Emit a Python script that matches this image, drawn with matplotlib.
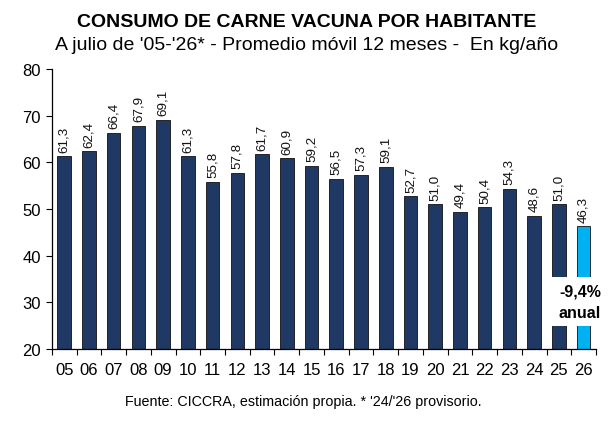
import numpy as np
import matplotlib.pyplot as plt
from matplotlib.patches import Rectangle
from matplotlib.ticker import MultipleLocator

plt.rcParams['font.family'] = ['Liberation Sans', 'DejaVu Sans']

years = ['05', '06', '07', '08', '09', '10', '11', '12', '13', '14', '15',
         '16', '17', '18', '19', '20', '21', '22', '23', '24', '25', '26']
consumo = [61.3, 62.4, 66.4, 67.9, 69.1, 61.3, 55.8, 57.8, 61.7, 60.9, 59.2,
           56.5, 57.3, 59.1, 52.7, 51.0, 49.4, 50.4, 54.3, 48.6, 51.0, 46.3]

navy = '#1f3864'
light = '#00b0f0'
colors = [navy] * (len(years) - 1) + [light]

fig = plt.figure(figsize=(6.1, 4.27), dpi=100)
ax = fig.add_axes([0.085, 0.18, 0.892, 0.656])

x = np.arange(len(years))
ax.bar(x, [v - 20 for v in consumo], bottom=20, width=0.55, color=colors,
       edgecolor='#111111', linewidth=0.6, zorder=2)

for xi, v in zip(x, consumo):
    ax.text(xi, v + 1.0, f'{v:.1f}'.replace('.', ','), rotation=90,
            ha='center', va='bottom', fontsize=9.6, color='#111111')

ax.set_ylim(20, 80)
ax.set_xlim(-0.5, len(years) - 0.5)
ax.yaxis.set_major_locator(MultipleLocator(10))
ax.tick_params(axis='y', labelsize=12, length=4, width=0.8, direction='out', pad=4)

ax.set_xticks(x)
ax.set_xticklabels(years)
ax.set_xticks(np.arange(-0.5, len(years), 1), minor=True)
ax.tick_params(axis='x', which='major', length=0, labelsize=12, pad=9)
ax.tick_params(axis='x', which='minor', length=4, width=0.8, direction='out')

for s in ['top', 'right']:
    ax.spines[s].set_visible(False)
ax.spines['left'].set_linewidth(0.9)
ax.spines['bottom'].set_linewidth(0.9)

# caja blanca con la variacion anual
ax.add_patch(Rectangle((19.65, 24.9), 2.2, 10.5, facecolor='white',
                       edgecolor='none', zorder=4, clip_on=False))
ax.text(20.85, 30.2, '-9,4%\nanual', ha='center', va='center', fontsize=11.5,
        fontweight='bold', linespacing=1.55, zorder=5, clip_on=False)

fig.text(0.502, 0.947, 'CONSUMO DE CARNE VACUNA POR HABITANTE', ha='center',
         va='center', fontsize=14, fontweight='bold')
fig.text(0.502, 0.893, "A julio de '05-'26* - Promedio móvil 12 meses -  En kg/año",
         ha='center', va='center', fontsize=14)
fig.text(0.498, 0.058, "Fuente: CICCRA, estimación propia. * '24/'26 provisorio.",
         ha='center', va='center', fontsize=10.3)

fig.savefig('out.png', dpi=100)
